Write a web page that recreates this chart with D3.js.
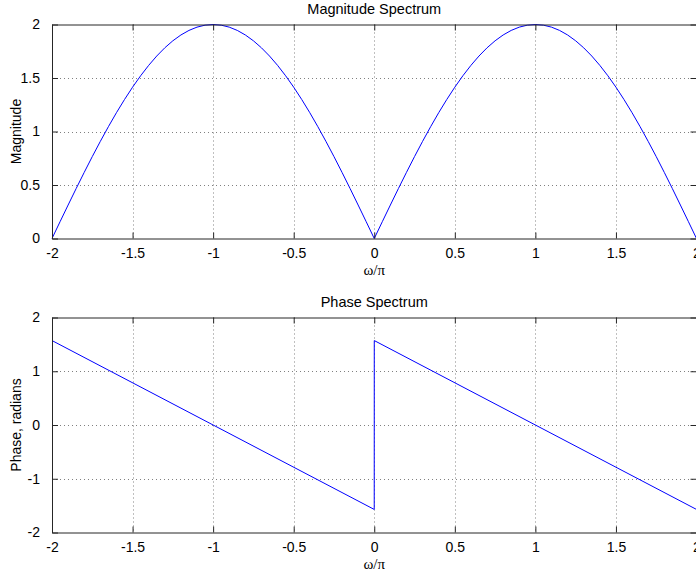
<!DOCTYPE html>
<html>
<head>
<meta charset="utf-8">
<script src="https://cdn.jsdelivr.net/npm/d3@7"></script>
<style>
  html, body { margin: 0; padding: 0; background: #fff; }
  svg { display: block; }
  text { font-family: "Liberation Sans", Arial, sans-serif; fill: #000; }
  .serif { font-family: "Liberation Serif", "Times New Roman", serif; }
</style>
</head>
<body>
<svg id="chart" width="696" height="577"></svg>
<script>
// Normalised frequency ω/π, sampled every 0.05
const omega = d3.range(-40, 41).map(i => i / 20);

// |H(e^jω)| at each sample of omega
const magnitude = [
  0, 0.1569, 0.3129, 0.4669, 0.6180, 0.7654, 0.9080, 1.0450, 1.1756, 1.2989,
  1.4142, 1.5208, 1.6180, 1.7053, 1.7820, 1.8478, 1.9021, 1.9447, 1.9754, 1.9938,
  2, 1.9938, 1.9754, 1.9447, 1.9021, 1.8478, 1.7820, 1.7053, 1.6180, 1.5208,
  1.4142, 1.2989, 1.1756, 1.0450, 0.9080, 0.7654, 0.6180, 0.4669, 0.3129, 0.1569,
  0,
  0.1569, 0.3129, 0.4669, 0.6180, 0.7654, 0.9080, 1.0450, 1.1756, 1.2989,
  1.4142, 1.5208, 1.6180, 1.7053, 1.7820, 1.8478, 1.9021, 1.9447, 1.9754, 1.9938,
  2, 1.9938, 1.9754, 1.9447, 1.9021, 1.8478, 1.7820, 1.7053, 1.6180, 1.5208,
  1.4142, 1.2989, 1.1756, 1.0450, 0.9080, 0.7654, 0.6180, 0.4669, 0.3129, 0.1569,
  0
];

// Phase (radians): linear segments with the jump at ω = 0
const phaseOmega = [-2, -0.0001, 0, 0.0001, 2];
const phase = [1.5708, -1.5708, 0, 1.5708, -1.5708];

// Axis ticks
const xTicks = [-2, -1.5, -1, -0.5, 0, 0.5, 1, 1.5, 2];
const magTicks = [0, 0.5, 1, 1.5, 2];
const phaseTicks = [-2, -1, 0, 1, 2];

const svg = d3.select("#chart");
const left = 52, right = 696.5;
const tickLen = 6;
const fmt = d => String(d);   // plain hyphen-minus for negatives

const x = d3.scaleLinear().domain([-2, 2]).range([left, right]);

function panel(cfg) {
  const y = d3.scaleLinear().domain(cfg.yDomain).range([cfg.bottom, cfg.top]);
  const g = svg.append("g");

  // dotted grid
  const grid = g.append("g").attr("stroke", "#808080").attr("stroke-width", 1)
    .attr("stroke-dasharray", "1,3").attr("fill", "none");
  xTicks.slice(1, -1).forEach(t => {
    grid.append("line").attr("x1", Math.round(x(t)) + 0.5).attr("x2", Math.round(x(t)) + 0.5)
      .attr("y1", cfg.top).attr("y2", cfg.bottom);
  });
  cfg.yTicks.slice(1, -1).forEach(t => {
    grid.append("line").attr("y1", Math.round(y(t)) + 0.5).attr("y2", Math.round(y(t)) + 0.5)
      .attr("x1", left).attr("x2", right);
  });

  // data line
  const line = d3.line().x(d => x(d[0])).y(d => y(d[1]));
  g.append("path")
    .datum(cfg.xs.map((v, i) => [v, cfg.ys[i]]))
    .attr("d", line)
    .attr("fill", "none")
    .attr("stroke", "#0000ff")
    .attr("stroke-width", 1);

  // axes: ticks point inward, box on all four sides
  const bottomAxis = d3.axisBottom(x).tickValues(xTicks).tickSizeInner(-tickLen).tickSizeOuter(0)
    .tickPadding(tickLen + 4).tickFormat(fmt);
  const topAxis = d3.axisTop(x).tickValues(xTicks).tickSizeInner(-tickLen).tickSizeOuter(0).tickFormat("");
  const leftAxis = d3.axisLeft(y).tickValues(cfg.yTicks).tickSizeInner(-tickLen).tickSizeOuter(0)
    .tickPadding(tickLen + 6).tickFormat(fmt);
  const rightAxis = d3.axisRight(y).tickValues(cfg.yTicks).tickSizeInner(-tickLen).tickSizeOuter(0).tickFormat("");

  const axes = [
    g.append("g").attr("transform", `translate(0,${cfg.bottom})`).call(bottomAxis),
    g.append("g").attr("transform", `translate(0,${cfg.top})`).call(topAxis),
    g.append("g").attr("transform", `translate(${left},0)`).call(leftAxis),
    g.append("g").attr("transform", `translate(${right},0)`).call(rightAxis)
  ];
  axes.forEach(a => {
    a.select(".domain").attr("stroke", "#262626");
    a.selectAll(".tick line").attr("stroke", "#262626");
    a.selectAll("text").attr("font-size", 14).attr("fill", "#000")
      .attr("font-family", "'Liberation Sans', Arial, sans-serif");
  });

  // title
  g.append("text")
    .attr("x", (left + right) / 2).attr("y", cfg.top - 11)
    .attr("text-anchor", "middle").attr("font-size", 14.5)
    .text(cfg.title);

  // x label
  g.append("text").attr("class", "serif")
    .attr("x", (left + right) / 2).attr("y", cfg.bottom + 36)
    .attr("text-anchor", "middle").attr("font-size", 15)
    .text("ω/π");

  // y label
  g.append("text")
    .attr("transform", `translate(21,${(cfg.top + cfg.bottom) / 2}) rotate(-90)`)
    .attr("text-anchor", "middle").attr("font-size", 14)
    .text(cfg.ylabel);
}

panel({
  top: 24.5, bottom: 238.5, yDomain: [0, 2], yTicks: magTicks,
  xs: omega, ys: magnitude,
  title: "Magnitude Spectrum", ylabel: "Magnitude"
});

panel({
  top: 317.5, bottom: 532.5, yDomain: [-2, 2], yTicks: phaseTicks,
  xs: phaseOmega, ys: phase,
  title: "Phase Spectrum", ylabel: "Phase, radians"
});
</script>
</body>
</html>
